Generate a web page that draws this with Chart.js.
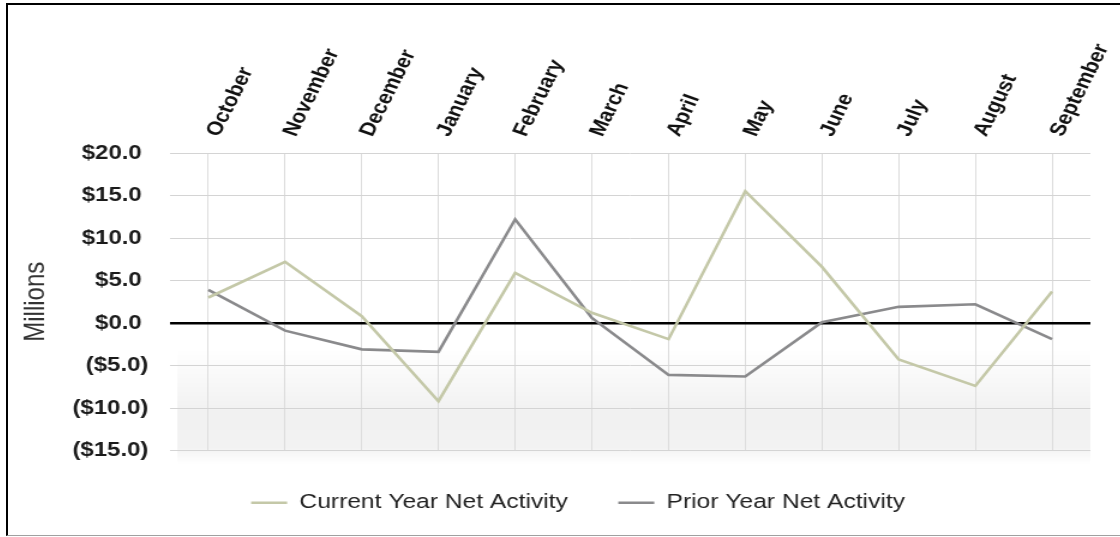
<!DOCTYPE html>
<html>
<head>
<meta charset="utf-8">
<script src="https://cdn.jsdelivr.net/npm/chart.js@4/dist/chart.umd.min.js"></script>
<style>
    html, body { margin: 0; padding: 0; background: #fff; }
    #frame {
        position: absolute; left: 6px; top: 3px;
        width: 1114px; height: 533px; box-sizing: border-box;
        border-left: 2px solid #000; border-top: 2px solid #000; border-bottom: 1px solid #a0a0a0;
        overflow: hidden; background: #fff;
    }
    /* the chart is drawn a bit narrow and widened to the frame */
    #chart { display: block; transform: scaleX(1.2); transform-origin: 0 0; }
</style>
</head>
<body>
<div id="frame">
    <canvas id="chart" width="950" height="530" style="width:950px;height:530px;"></canvas>
</div>

<script>
    var months = ['October', 'November', 'December', 'January', 'February', 'March',
        'April', 'May', 'June', 'July', 'August', 'September'];
    var currentYear = [3.0, 7.2, 0.8, -9.2, 5.9, 1.2, -1.9, 15.5, 6.6, -4.3, -7.4, 3.7];
    var priorYear = [3.9, -0.9, -3.1, -3.4, 12.2, 0.6, -6.1, -6.3, 0.1, 1.9, 2.2, -1.9];
    var yTicks = [-15, -10, -5, 0, 5, 10, 15, 20];

    // $#,##0.0_);($#,##0.0) - positives keep a gap where the ")" would be
    function money(v) {
        return v < 0 ? '($' + Math.abs(v).toFixed(1) + ')' : '$' + v.toFixed(1) + ' ';
    }

    // soft grey band under the negative part of the plot
    var bottomShade = {
        id: 'bottomShade',
        beforeDraw: function (chart) {
            var a = chart.chartArea, y = chart.scales.y, ctx = chart.ctx;
            var top = y.getPixelForValue(-3);
            var g = ctx.createLinearGradient(0, top, 0, a.bottom + 14);
            g.addColorStop(0, 'rgba(0,0,0,0)');
            g.addColorStop(0.55, 'rgba(0,0,0,0.055)');
            g.addColorStop(0.85, 'rgba(0,0,0,0.05)');
            g.addColorStop(1, 'rgba(0,0,0,0)');
            ctx.save();
            ctx.fillStyle = g;
            ctx.fillRect(a.left + 6, top, a.right - a.left - 6, a.bottom + 14 - top);
            ctx.restore();
        }
    };

    var ctx = document.getElementById('chart').getContext('2d');
    var chart = new Chart(ctx, {
        type: 'line',
        data: {
            labels: months,
            datasets: [{
                label: 'Current Year Net Activity',
                data: currentYear,
                borderColor: '#c4c8a8',
                backgroundColor: '#c4c8a8',
                borderWidth: 2.6,
                pointRadius: 0,
                tension: 0
            }, {
                label: 'Prior Year Net Activity',
                data: priorYear,
                borderColor: '#8a8a8c',
                backgroundColor: '#8a8a8c',
                borderWidth: 2.6,
                pointRadius: 0,
                tension: 0
            }]
        },
        options: {
            responsive: false,
            animation: false,
            layout: { padding: { top: 0, left: 0, right: 0, bottom: 12 } },
            plugins: {
                tooltip: { enabled: false },
                legend: {
                    position: 'bottom',
                    labels: {
                        usePointStyle: true,
                        pointStyle: 'line',
                        pointStyleWidth: 30,
                        padding: 42,
                        color: '#222',
                        font: { family: 'Liberation Sans, Arial, sans-serif', size: 20.5 }
                    }
                }
            },
            scales: {
                x: {
                    position: 'top',
                    offset: true,
                    afterFit: function (scale) { scale.height = 148; },
                    grid: { offset: false, color: '#dcdcdc', drawTicks: false },
                    border: { display: false },
                    ticks: {
                        autoSkip: false,
                        minRotation: 67,
                        maxRotation: 67,
                        padding: 13,
                        labelOffset: 25,
                        color: '#111',
                        font: { family: 'Liberation Sans, Arial, sans-serif', size: 19, weight: 'bold' }
                    }
                },
                y: {
                    min: -15,
                    max: 20,
                    afterFit: function (scale) { scale.width = 135; },
                    afterBuildTicks: function (scale) {
                        scale.ticks = yTicks.map(function (v) { return { value: v }; });
                    },
                    grid: {
                        drawTicks: false,
                        color: function (c) { return c.tick && c.tick.value === 0 ? '#000' : '#d4d4d4'; },
                        lineWidth: function (c) { return c.tick && c.tick.value === 0 ? 2.5 : 1; }
                    },
                    border: { display: false },
                    title: {
                        display: true,
                        text: 'Millions',
                        padding: { top: 9 },
                        color: '#333',
                        font: { family: 'Liberation Sans, Arial, sans-serif', size: 24 }
                    },
                    ticks: {
                        padding: 18,
                        color: '#1a1a1a',
                        font: { family: 'Liberation Sans, Arial, sans-serif', size: 20, weight: 'bold' },
                        callback: function (v) { return money(v); }
                    }
                },
                // empty margin on the right of the plot
                yRight: {
                    position: 'right',
                    afterFit: function (scale) { scale.width = 48; },
                    grid: { display: false },
                    border: { display: false },
                    ticks: { display: false }
                }
            }
        },
        plugins: [bottomShade]
    });
</script>
</body>
</html>
